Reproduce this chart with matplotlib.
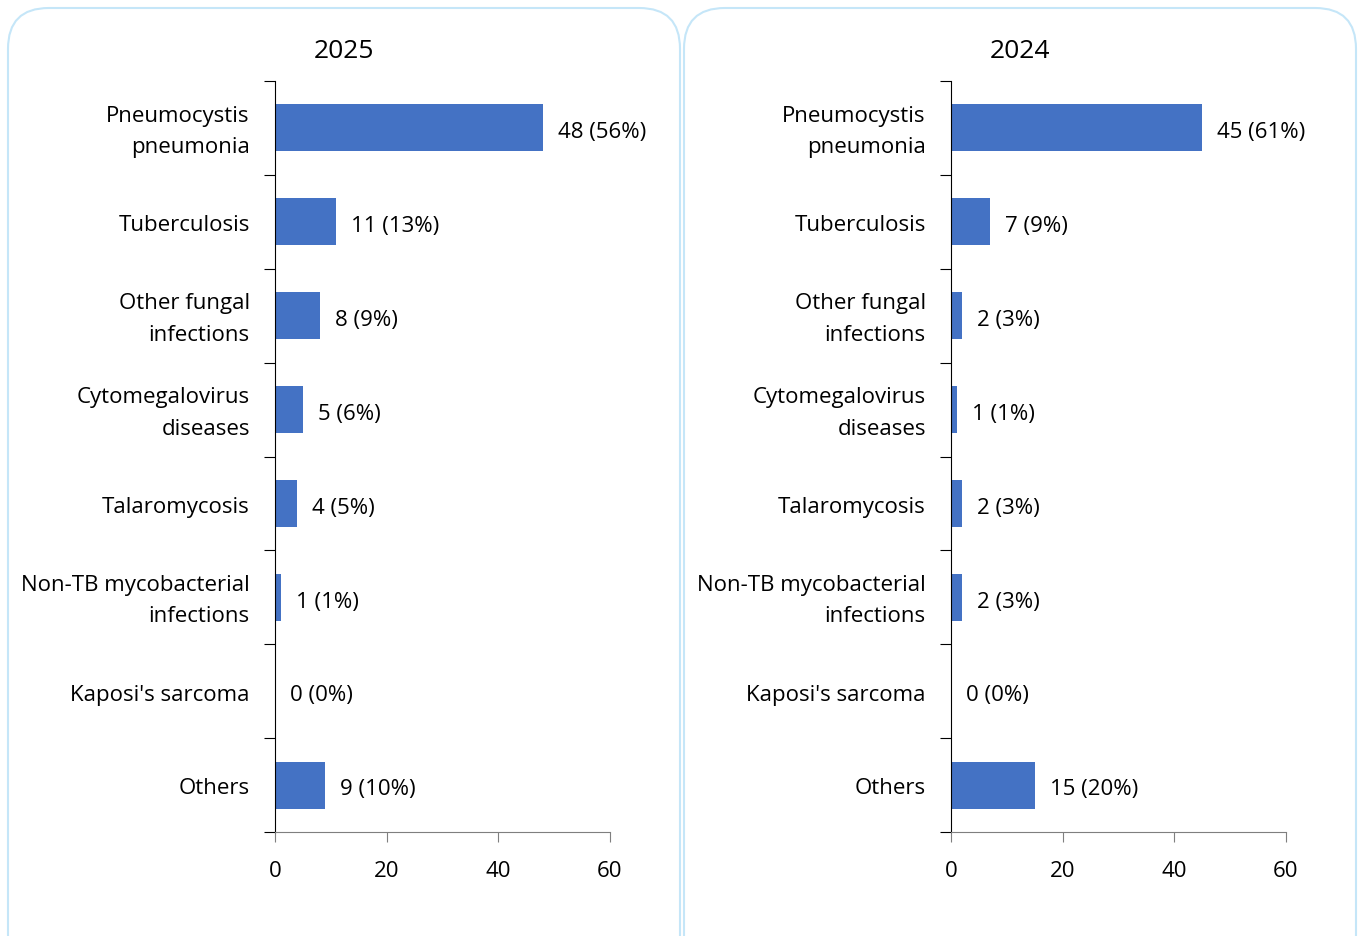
import matplotlib.pyplot as plt
from matplotlib.patches import FancyBboxPatch

plt.rcParams['font.family'] = ['Open Sans', 'DejaVu Sans']

categories = ['Pneumocystis\npneumonia', 'Tuberculosis', 'Other fungal\ninfections',
              'Cytomegalovirus\ndiseases', 'Talaromycosis', 'Non-TB mycobacterial\ninfections',
              "Kaposi's sarcoma", 'Others']
years = ['2025', '2024']
counts_2025 = [48, 11, 8, 5, 4, 1, 0, 9]
pct_2025 = [56, 13, 9, 6, 5, 1, 0, 10]
counts_2024 = [45, 7, 2, 1, 2, 2, 0, 15]
pct_2024 = [61, 9, 3, 1, 3, 3, 0, 20]

W, H = 1359, 937
fig = plt.figure(figsize=(W / 100, H / 100), dpi=100)

bar_color = '#4472C4'
box_color = '#C5E6F8'

panels = [
    (years[0], counts_2025, pct_2025, 8, 275),
    (years[1], counts_2024, pct_2024, 684, 951),
]

for title, counts, pcts, box_x, ax_x in panels:
    # rounded panel border
    box = FancyBboxPatch((box_x / W, -40 / H), 672 / W, (H - 9 + 40) / H,
                         boxstyle='round,pad=0,rounding_size=0.03',
                         transform=fig.transFigure, facecolor='none',
                         edgecolor=box_color, linewidth=1.5, mutation_aspect=W / H)
    fig.patches.append(box)
    fig.text((box_x + 336) / W, 1 - 52 / H, title, ha='center', va='center', fontsize=19)

    ax = fig.add_axes([ax_x / W, 1 - 833 / H, 335 / W, (833 - 82) / H])
    n = len(categories)
    ypos = list(range(n))
    ax.barh(ypos, counts, height=0.5, color=bar_color)
    ax.set_ylim(n - 0.5, -0.5)
    ax.set_xlim(0, 60)
    ax.set_xticks([0, 20, 40, 60])
    ax.tick_params(axis='x', labelsize=16, length=7, color='#7f7f7f', pad=13)
    ax.set_yticks([i - 0.5 for i in range(n + 1)])
    ax.set_yticklabels([])
    ax.tick_params(axis='y', length=8, color='black')
    for i, lab in enumerate(categories):
        ax.text(-0.075, i + 0.03, lab, transform=ax.get_yaxis_transform(), ha='right',
                va='center', fontsize=16, linespacing=1.65)
    for i, (c, p) in enumerate(zip(counts, pcts)):
        ax.text(c + 2.7, i + 0.04, f'{c} ({p}%)', ha='left', va='center', fontsize=16)
    for s in ['top', 'right']:
        ax.spines[s].set_visible(False)
    ax.spines['bottom'].set_color('#7f7f7f')
    ax.spines['left'].set_color('black')

fig.savefig('out.png', dpi=100)
